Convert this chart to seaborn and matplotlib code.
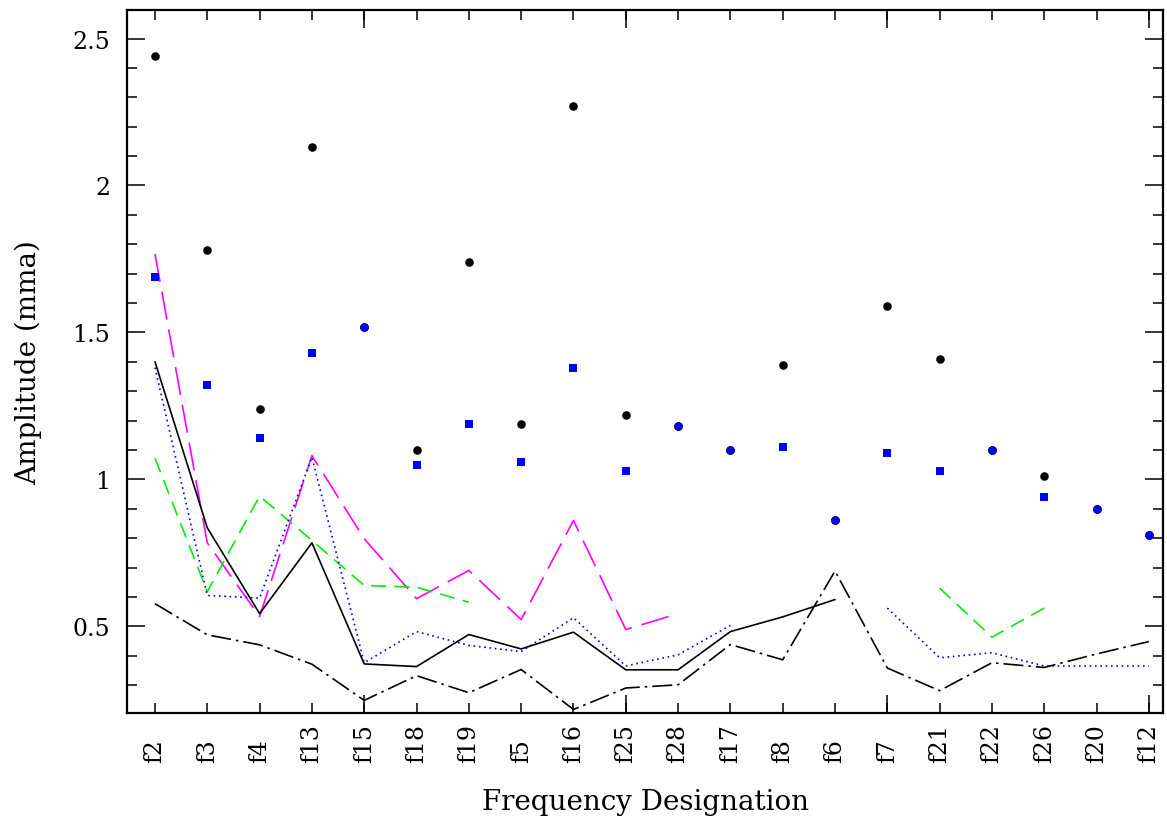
import numpy as np
import pandas as pd
import matplotlib
matplotlib.use("Agg")
import matplotlib.pyplot as plt
import seaborn as sns
from matplotlib.ticker import MultipleLocator, FixedLocator

nan = np.nan

freqs = ["f2", "f3", "f4", "f13", "f15", "f18", "f19", "f5", "f16", "f25",
         "f28", "f17", "f8", "f6", "f7", "f21", "f22", "f26", "f20", "f12"]

# measured amplitudes (mma)
amp_black = [2.44, 1.78, 1.24, 2.13, 1.52, 1.10, 1.74, 1.19, 2.27, 1.22,
             1.18, 1.10, 1.39, 0.86, 1.59, 1.41, 1.10, 1.01, 0.90, 0.81]
amp_blue = [1.69, 1.32, 1.14, 1.43, 1.52, 1.05, 1.19, 1.06, 1.38, 1.03,
            1.18, 1.10, 1.11, 0.86, 1.09, 1.03, 1.10, 0.94, 0.90, 0.81]

# detection thresholds per subset
thr_solid = [1.40, 0.835, 0.543, 0.784, 0.372, 0.363, 0.472, 0.423, 0.480, 0.352,
             0.352, 0.482, 0.532, 0.591, nan, nan, nan, nan, nan, nan]
thr_dotted = [1.38, 0.605, 0.596, 1.075, 0.376, 0.482, 0.435, 0.414, 0.529, 0.365,
              0.403, 0.503, nan, nan, 0.562, 0.393, 0.410, 0.365, 0.365, 0.365]
thr_magenta = [1.767, 0.784, 0.533, 1.081, 0.798, 0.594, 0.690, 0.523, 0.860, 0.489,
               0.543, nan, nan, nan, nan, nan, nan, nan, nan, nan]
thr_green = [1.072, 0.618, 0.943, 0.792, 0.639, 0.633, 0.582, nan, nan, nan,
             nan, nan, nan, nan, nan, 0.630, 0.463, 0.562, nan, nan]
thr_dashdot = [0.577, 0.471, 0.437, 0.371, 0.248, 0.332, 0.274, 0.353, 0.217, 0.290,
               0.301, 0.438, 0.386, 0.688, 0.358, 0.281, 0.376, 0.360, 0.406, 0.448]

sns.set_theme(style="ticks")
plt.rcParams["font.family"] = ["DejaVu Serif", "DejaVu Sans"]
plt.rcParams["text.color"] = "black"
plt.rcParams["axes.labelcolor"] = "black"

fig = plt.figure(figsize=(11.67, 8.2), dpi=100)
ax = fig.add_axes([127 / 1167, 1 - 714 / 820, (1163 - 127) / 1167, (714 - 11) / 820])

xpos = np.arange(1, len(freqs) + 1)


def segments(values):
    """Split a series at missing values so gaps stay open."""
    rows = []
    seg = 0
    prev_nan = True
    for x, v in zip(xpos, values):
        if np.isnan(v):
            prev_nan = True
            continue
        if prev_nan:
            seg += 1
            prev_nan = False
        rows.append((x, v, seg))
    return pd.DataFrame(rows, columns=["x", "y", "seg"])


line_specs = [
    (thr_magenta, "#ff00ff", (0, (17, 6))),
    (thr_green, "#00ee00", (0, (9, 5))),
    (thr_dotted, "#0000ff", (0, (1, 2.2))),
    (thr_solid, "black", "-"),
    (thr_dashdot, "black", (0, (12, 3, 1.5, 3))),
]
for vals, col, ls in line_specs:
    df = segments(vals)
    sns.lineplot(data=df, x="x", y="y", units="seg", estimator=None, sort=False,
                 color=col, linestyle=ls, linewidth=1.2, ax=ax, legend=False)

black = np.array(amp_black)
blue = np.array(amp_blue)
same = np.isclose(black, blue)

sns.scatterplot(x=xpos, y=black, color="black", marker="o", s=34,
                edgecolor="black", linewidth=0.3, ax=ax, legend=False, zorder=5)
sns.scatterplot(x=xpos[~same], y=blue[~same], color="#0000ff", marker="s", s=26,
                linewidth=0, ax=ax, legend=False, zorder=6)
sns.scatterplot(x=xpos[same], y=blue[same], color="#0000ff", marker="o", s=34,
                edgecolor="#000066", linewidth=0.3, ax=ax, legend=False, zorder=6)

ax.set_xlim(0.465, 20.27)
ax.set_ylim(0.205, 2.597)

# short ticks with labels at every frequency, long ticks every fifth
ax.xaxis.remove_overlapping_locs = False
ax.set_xticks(xpos)
ax.set_xticklabels(freqs, rotation=90, fontsize=17, va="bottom")
ax.xaxis.set_minor_locator(FixedLocator([5, 10, 15, 20]))

ax.yaxis.set_major_locator(FixedLocator([0.5, 1, 1.5, 2, 2.5]))
ax.set_yticklabels(["0.5", "1", "1.5", "2", "2.5"], fontsize=17)
ax.yaxis.set_minor_locator(MultipleLocator(0.1))

ax.tick_params(which="both", direction="in", top=True, right=True, width=1.1, colors="black")
ax.tick_params(axis="x", which="major", length=7, pad=35)
ax.tick_params(axis="x", which="minor", length=13)
ax.tick_params(axis="y", which="major", length=13, pad=12)
ax.tick_params(axis="y", which="minor", length=7)

for sp in ax.spines.values():
    sp.set_linewidth(1.6)
    sp.set_color("black")

ax.set_xlabel("Frequency Designation", fontsize=20, labelpad=19)
ax.set_ylabel("Amplitude (mma)", fontsize=20, labelpad=22)

fig.savefig("out.png", dpi=100, facecolor="white")
